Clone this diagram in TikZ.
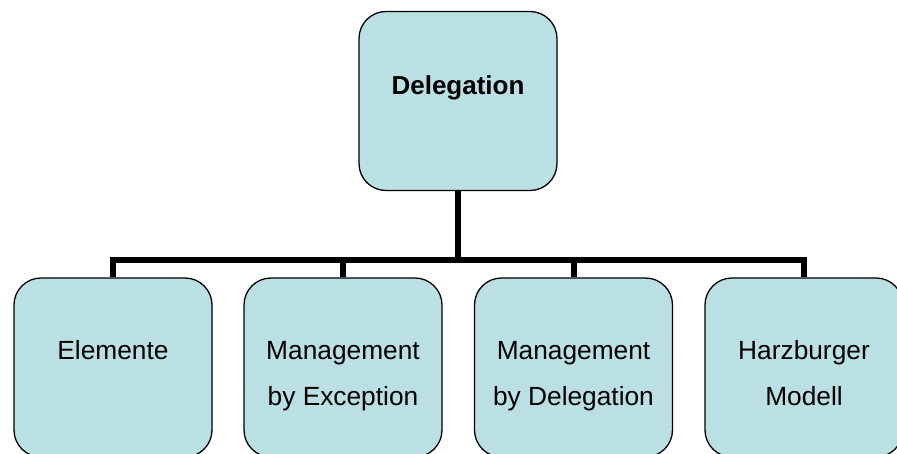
\documentclass[tikz,border=0pt]{standalone}
\usepackage{fontspec}
\setmainfont{Liberation Sans}
\definecolor{boxfill}{RGB}{186,224,227}
\begin{document}
\begin{tikzpicture}[x=1pt,y=-1pt,
  orgbox/.style={draw=black,line width=1.3pt,fill=boxfill,rounded corners=27pt,
    minimum width=198pt,minimum height=179pt,inner sep=0pt},
  boxtext/.style={anchor=base,align=center,inner sep=0pt,
    font=\fontsize{26.3}{45.7}\selectfont},
  conn/.style={line width=6pt,line join=miter,draw=black}]
\useasboundingbox (0,0) rectangle (897,453);
\clip (0,0) rectangle (897,453);
\fill[white] (0,0) rectangle (897,453);

% boxes
\node[orgbox] (top) at (458,101) {};
\node[orgbox] (b1) at (113,367.5) {};
\node[orgbox] (b2) at (343,367.5) {};
\node[orgbox] (b3) at (573.5,367.5) {};
\node[orgbox] (b4) at (804,367.5) {};

% level of the horizontal bus
\coordinate (bus) at (0,260);

% connectors
\draw[conn] (top.south) -- (top.south |- bus);
\draw[conn] (b1.north) -- (b1.north |- bus) -- (b4.north |- bus) -- (b4.north);
\draw[conn] (b2.north) -- (b2.north |- bus);
\draw[conn] (b3.north) -- (b3.north |- bus);

% labels: first baseline about 82pt below the box top
% (a two-line node sits on its last baseline, one line further down)
\node[boxtext,font=\fontsize{26}{45.7}\selectfont\bfseries] (ttop) at ([yshift=-84pt]top.north) {Delegation};
\node[boxtext] (t1) at ([yshift=-82pt]b1.north) {Elemente};
\node[boxtext] (t2) at ([yshift=-128pt]b2.north) {Management\\by Exception};
\node[boxtext] (t3) at ([yshift=-128pt]b3.north) {Management\\by Delegation};
\node[boxtext] (t4) at ([yshift=-128pt]b4.north) {Harzburger\\Modell};
\end{tikzpicture}
\end{document}
